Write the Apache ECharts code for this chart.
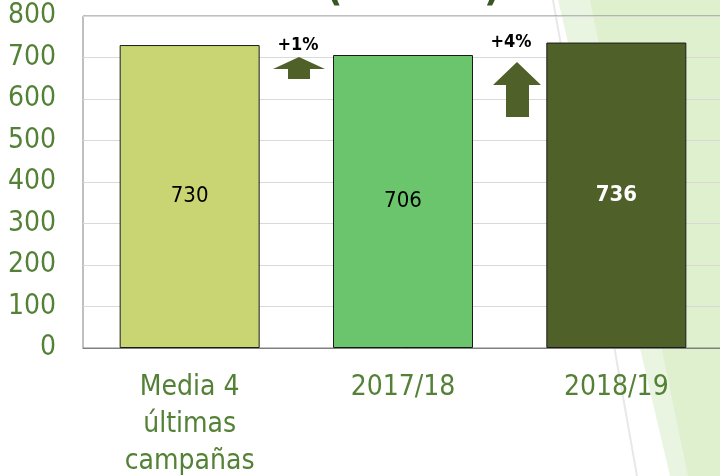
<!DOCTYPE html>
<html>
<head>
<meta charset="utf-8">
<script src="https://cdn.jsdelivr.net/npm/echarts@6/dist/echarts.min.js"></script>
<style>
  html, body { margin: 0; padding: 0; background: #fff; }
  #main { width: 720px; height: 476px; }
</style>
</head>
<body>
<div id="main"></div>
<script>
// datos
var categorias = ['Media 4\núltimas\ncampañas', '2017/18', '2018/19'];
var valores = [730, 706, 736];
var coloresBarra = ['#C9D573', '#6BC56C', '#4F6028'];
var coloresEtiqueta = ['#000000', '#000000', '#FFFFFF'];
var pesoEtiqueta = ['normal', 'normal', 'bold'];
var variaciones = ['+1%', '+4%'];

var fuente = 'Tahoma, "DejaVu Sans Condensed", "Liberation Sans", sans-serif';
var verde = '#538135';
var flecha = '#4F6028';

var myChart = echarts.init(document.getElementById('main'));

var option = {
  animation: false,
  grid: {
    left: 83, right: -3, top: 16, bottom: 128,
    outerBoundsMode: 'none', containLabel: false,
    show: true, borderColor: '#808080', borderWidth: 1,
    backgroundColor: 'transparent'
  },
  xAxis: {
    type: 'category',
    data: categorias,
    axisLine: { lineStyle: { color: '#808080' } },
    axisTick: { show: false },
    axisLabel: {
      color: verde, fontFamily: fuente, fontSize: 28,
      lineHeight: 37, margin: 21, interval: 0
    }
  },
  yAxis: {
    type: 'value',
    min: 0, max: 800, interval: 100,
    axisLine: { show: false },
    axisTick: { show: false },
    splitLine: { lineStyle: { color: '#D9D9D9' } },
    axisLabel: { color: verde, fontFamily: fuente, fontSize: 28, margin: 27 }
  },
  graphic: [
    // fondo decorativo
    { type: 'polygon', z: -10, silent: true,
      shape: { points: [[558, 0], [720, 0], [720, 476], [670, 476]] },
      style: { fill: '#E9F5E1' } },
    { type: 'polygon', z: -9, silent: true,
      shape: { points: [[590, 0], [720, 0], [720, 476], [688, 476]] },
      style: { fill: '#DEF0CE' } },
    { type: 'line', z: -8, silent: true,
      shape: { x1: 553, y1: 0, x2: 637, y2: 476 },
      style: { stroke: '#E8E8E8', lineWidth: 2 } },
    // titulo cortado
    { type: 'text', left: 326, top: -30,
      style: { text: '(', fill: '#385723', font: 'bold 40px ' + fuente } },
    { type: 'text', left: 484, top: -30,
      style: { text: ')', fill: '#385723', font: 'bold 40px ' + fuente } },
    // flechas
    { type: 'polygon', z: 10,
      shape: { points: [[288, 79], [288, 69], [273, 69], [299, 57], [325, 69], [310, 69], [310, 79]] },
      style: { fill: flecha } },
    { type: 'polygon', z: 10,
      shape: { points: [[506, 117], [506, 85], [493, 85], [517, 62], [541, 85], [529, 85], [529, 117]] },
      style: { fill: flecha } },
    { type: 'text', z: 10, x: 298, y: 45,
      style: { text: variaciones[0], fill: '#000', font: 'bold 18px ' + fuente, align: 'center', verticalAlign: 'middle' } },
    { type: 'text', z: 10, x: 511, y: 42,
      style: { text: variaciones[1], fill: '#000', font: 'bold 18px ' + fuente, align: 'center', verticalAlign: 'middle' } }
  ],
  series: [
    {
      type: 'bar',
      barWidth: 140,
      data: valores.map(function (v, i) {
        return {
          value: v,
          itemStyle: { color: coloresBarra[i], borderColor: '#1a1a1a', borderWidth: 1 },
          label: { color: coloresEtiqueta[i], fontWeight: pesoEtiqueta[i] }
        };
      }),
      label: {
        show: true, position: 'inside',
        fontFamily: fuente, fontSize: 22
      }
    }
  ]
};

myChart.setOption(option);
</script>
</body>
</html>
